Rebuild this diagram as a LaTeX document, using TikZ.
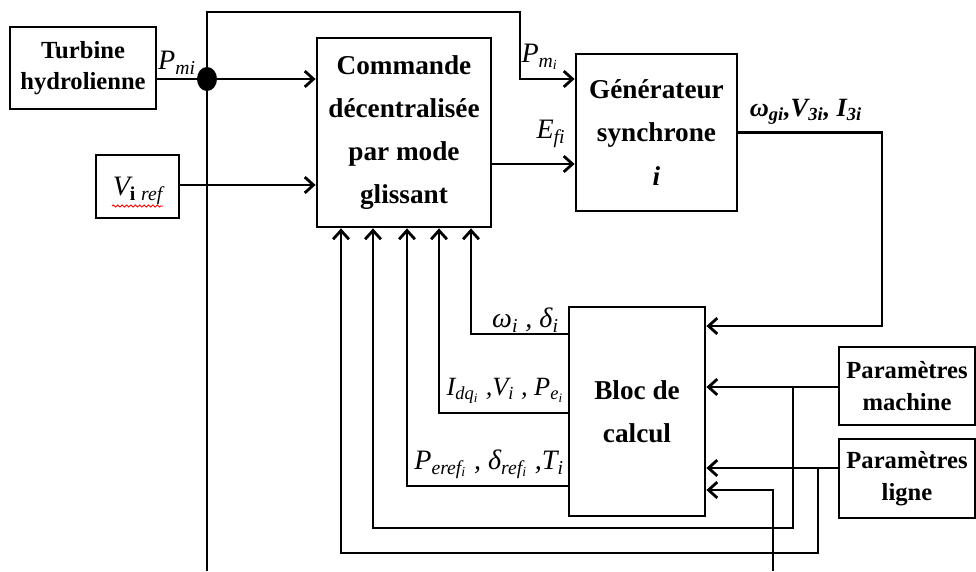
\documentclass[tikz,border=0pt]{standalone}
\usepackage{fontspec}
\setmainfont{Liberation Serif}
\usetikzlibrary{arrows.meta,positioning,calc,decorations.pathmorphing}
\newcommand{\ind}[1]{\textsubscript{\textit{#1}}}

\begin{document}
\begin{tikzpicture}[
    x=0.02cm, y=-0.02cm,
    boite/.style={draw, line width=1.6pt, align=center, inner sep=0pt,
      font=\fontsize{14}{18}\selectfont\bfseries},
    grande/.style={boite, font=\fontsize{15.5}{24.5}\selectfont\bfseries},
    lien/.style={line width=1.6pt},
    fleche/.style={lien, -{Straight Barb[length=5pt,width=9pt]}},
    lbl/.style={font=\fontsize{16}{20}\selectfont\itshape, inner sep=1pt}
  ]
  \useasboundingbox (0,0) rectangle (976,571);

  %% Blocs
  \node[boite, minimum width=2.92cm, minimum height=1.64cm] (turbine) at (83,68) {Turbine\\hydrolienne};
  \node[boite, minimum width=1.66cm, minimum height=1.26cm] (vref) at (137.5,186.5) {};
  \node[grande, minimum width=3.48cm, minimum height=3.78cm] (commande) at (404,132.5) {Commande\\décentralisée\\par mode\\glissant};
  \node[grande, minimum width=3.22cm, minimum height=3.14cm] (generateur) at (656.5,132.5) {Générateur\\synchrone\\\textit{i}};
  \node[grande, minimum width=2.72cm, minimum height=4.18cm] (bloc) at (637,411.5) {Bloc de\\calcul};
  \node[boite, minimum width=2.72cm, minimum height=1.56cm] (parmachine) at (907,386) {Paramètres\\machine};
  \node[boite, minimum width=2.72cm, minimum height=1.58cm] (parligne) at (907,478.5) {Paramètres\\ligne};

  %% texte de Vref et soulignement du correcteur
  \node[lbl] (lvref) at (138,191) {V\textsubscript{\upshape\bfseries i}\ind{ ref}};
  \draw[red, line width=0.5pt, decorate, decoration={snake, amplitude=0.6pt, segment length=2.5pt}]
    (112,206) -- (163,206);

  %% Points de jonction
  \coordinate (jct) at (207,79);
  \coordinate (brm) at (793,387);
  \coordinate (lg)  at (parligne.west |- 0,468);
  \coordinate (brl) at (818,468);

  %% Liaisons du haut
  \draw[lien] (turbine.east |- jct) -- (jct);
  \draw[fleche] (jct) -- (commande.west |- jct);
  \fill (jct) ellipse [x radius=0.2cm, y radius=0.24cm];
  \draw[fleche] (207,571) |- (520,12) |- (generateur.west |- jct);
  \draw[fleche] (vref.east |- 0,185) -- (commande.west |- 0,185);
  \draw[fleche] (commande.east |- 0,164) -- (generateur.west |- 0,164);
  \draw[fleche] (generateur.east) -| (882,326) -- (bloc.east |- 0,326);

  %% Sorties du bloc de calcul
  \foreach \yy/\xx in {334/471, 413/439, 486/407}
    \draw[fleche] (bloc.west |- 0,\yy) -| (commande.south -| \xx,0);

  %% Parametres
  \draw[fleche] (parmachine.west |- brm) -- (bloc.east |- brm);
  \draw[fleche] (brm) |- (373,528) -- (commande.south -| 373,0);
  \draw[fleche] (lg) -- (bloc.east |- lg);
  \draw[fleche] (brl) |- (341,553) -- (commande.south -| 341,0);
  \draw[fleche] (773,571) |- (bloc.east |- 0,490);

  %% Etiquettes
  \node[lbl] (lpm) at (177,63) {P\ind{mi}};
  \node[lbl] (lpmi) at (540,57) {P\ind{m\ind{i}}};
  \node[lbl] (lefi) at (551,134) {E\ind{fi}};
  \node[lbl, font=\fontsize{15}{18}\selectfont\bfseries\itshape] (lsortie) at (806,112) {ω\ind{gi},V\ind{3i}, I\ind{3i}};
  \node[lbl, anchor=east] (lomega) at (561,320) {ω\ind{i} , δ\ind{i}};
  \node[lbl, anchor=east, font=\fontsize{15}{20}\selectfont\itshape] (lidq) at (566,391) {I\ind{dq\ind{i}} ,V\ind{i} , P\ind{e\ind{i}}};
  \node[lbl, anchor=east] (lperef) at (566,464) {P\ind{eref\ind{i}} , δ\ind{ref\ind{i}} ,T\ind{i}};

\end{tikzpicture}
\end{document}
